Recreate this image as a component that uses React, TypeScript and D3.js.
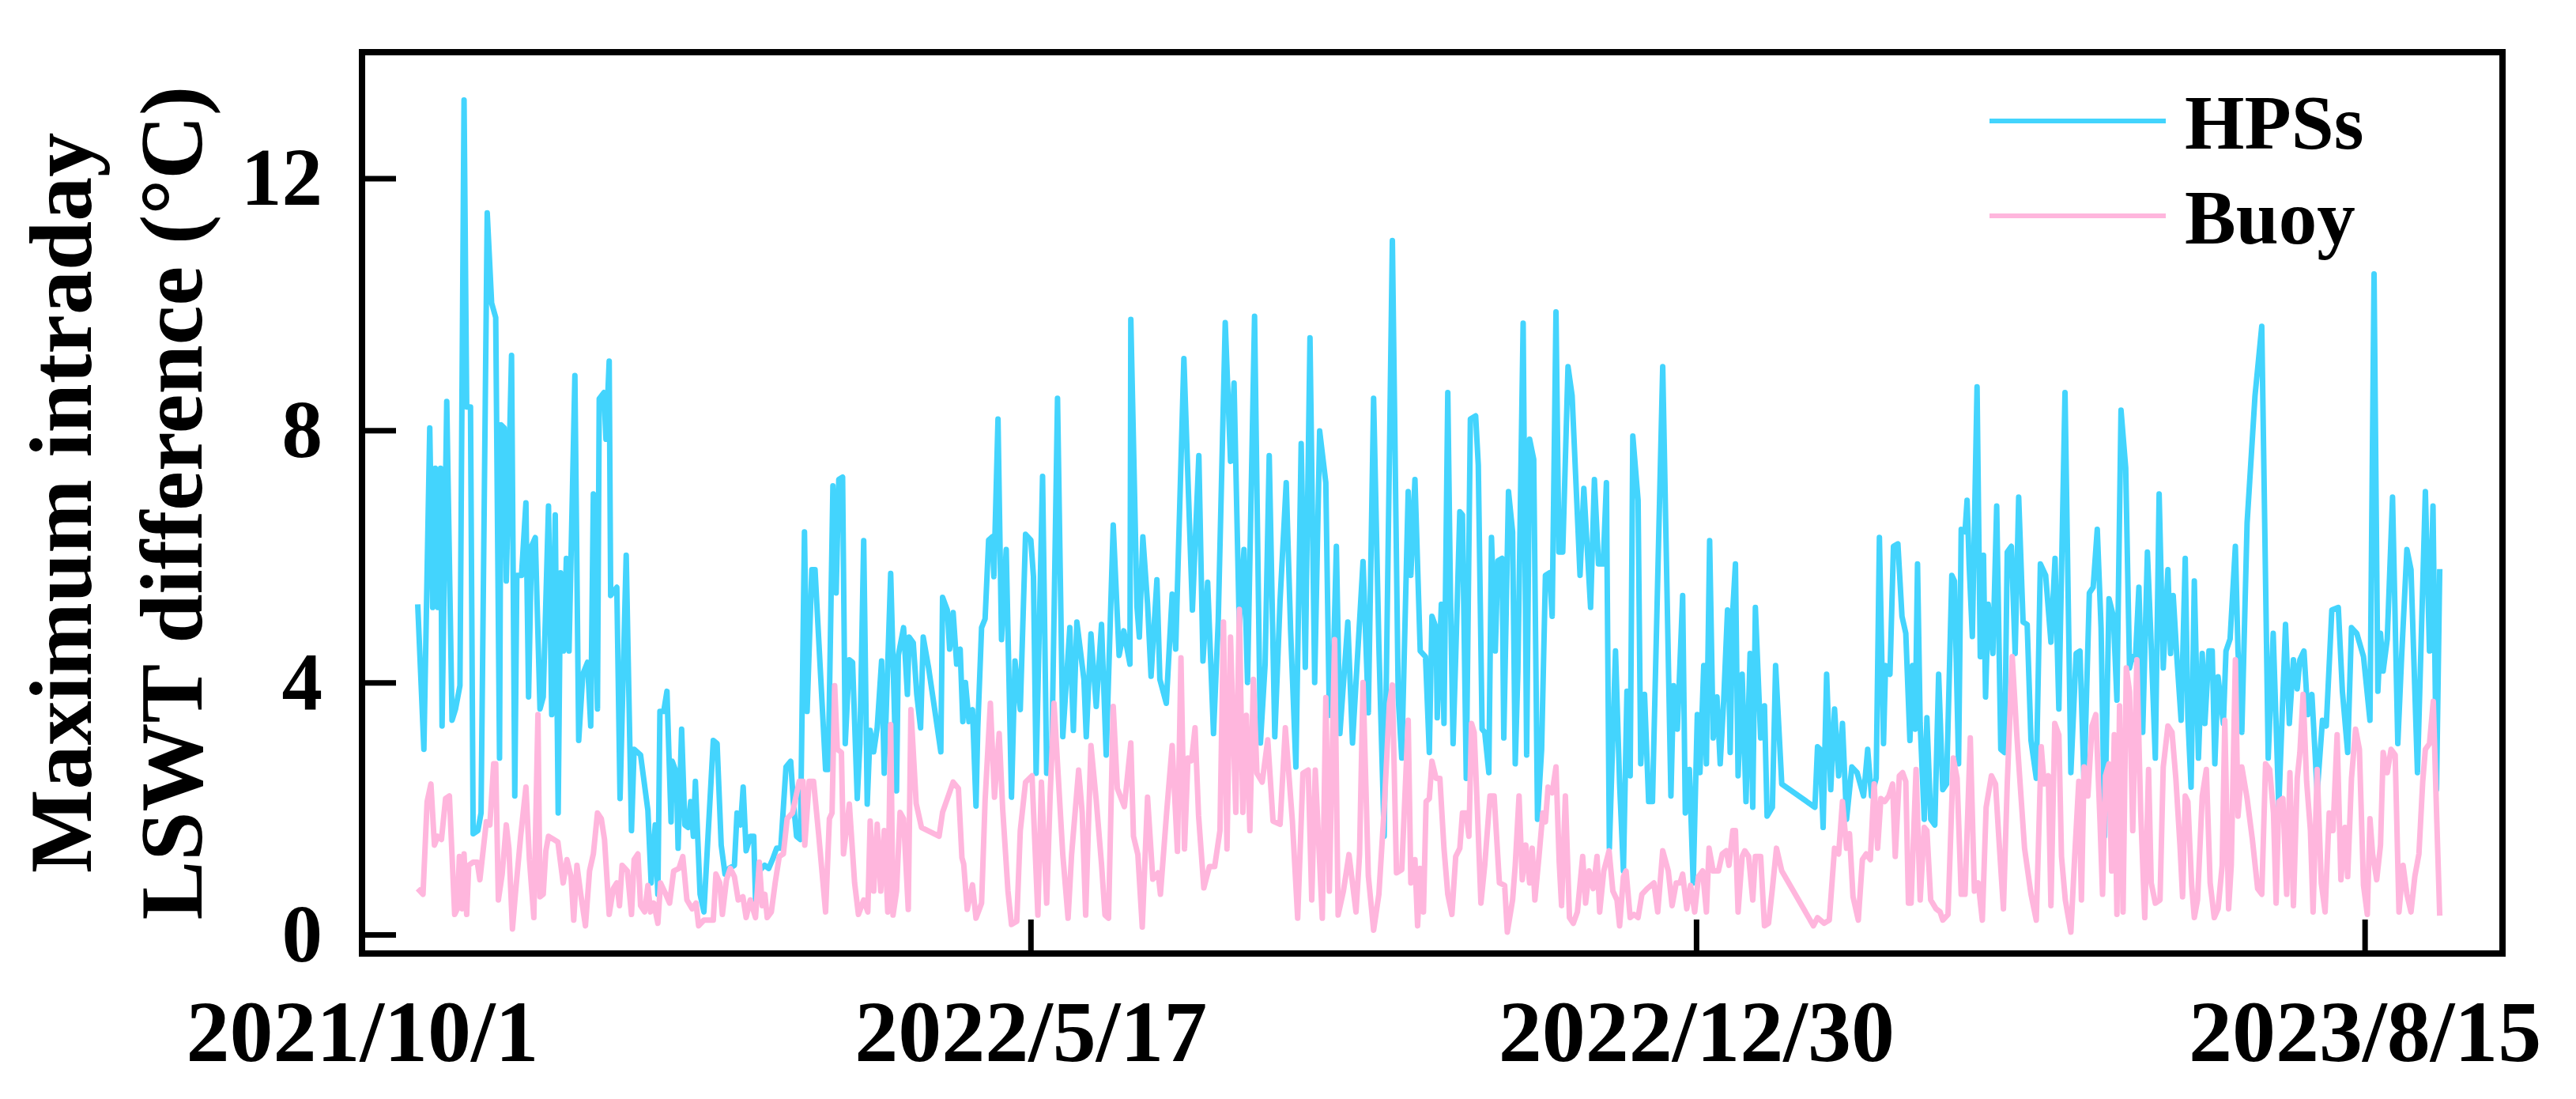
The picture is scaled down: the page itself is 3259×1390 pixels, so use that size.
import React, { useEffect, useRef } from 'react';
import * as d3 from 'd3';

// x values are days since 2021/10/1
const startDate = '2021-10-01';
const endDate = '2023-10-01';
const xTickDates = ['2021-10-01', '2022-05-17', '2022-12-30', '2023-08-15'];
const yTicks = [0, 4, 8, 12];
const seriesNames = ['HPSs', 'Buoy'];
const seriesColors = ['#43D4FD', '#FFB6DD'];

const hpsPoints: [number, number][] = [
  [19.0,5.24],[21.1,2.94],[23.1,8.04],[24.1,5.19],[25.0,7.40],[25.9,5.19],[26.8,7.40],[27.3,3.31],[28.9,8.46],[30.7,3.40],
  [31.9,3.58],[33.4,3.95],[34.8,13.24],[35.7,8.37],[37.0,8.37],[37.9,1.60],[39.5,1.65],[40.6,1.93],[42.7,11.45],[44.2,10.02],
  [45.6,9.79],[46.9,2.80],[47.4,8.09],[48.5,8.04],[49.2,5.61],[51.0,9.19],[52.1,2.2],[52.8,5.7],[54.4,5.7],[55.9,6.85],
  [56.8,3.77],[57.8,6.16],[59.1,6.30],[60.7,3.58],[61.8,3.77],[63.6,6.80],[64.7,3.49],[65.9,6.66],[66.9,1.93],[67.7,5.74],
  [68.7,4.5],[69.7,5.97],[70.6,4.5],[72.6,8.87],[73.9,3.08],[75.3,4.13],[76.9,4.32],[78.0,3.31],[78.9,6.99],[80.3,3.58],
  [80.9,8.5],[82.5,8.6],[83.2,7.86],[84.3,9.1],[84.8,5.38],
  [86.9,5.51],[88.0,2.16],[90.1,6.02],[91.9,1.65],[92.8,2.94],[95.0,2.85],[97.5,1.97],[98.6,0.82],[100.0,1.74],[100.9,0.64],
  [101.6,3.54],[102.9,3.54],[104.0,3.86],[105.4,1.79],[105.8,2.75],[107.2,2.57],[107.8,1.37],[109.0,3.26],[110.1,1.74],[111.2,1.7],
  [112.1,2.11],[113.0,1.56],[113.7,2.43],[115.3,0.64],[116.6,0.36],[118.0,1.56],[119.8,3.08],[121.1,3.03],[122.5,1.42],[123.8,0.96],
  [125.2,1.05],[127.0,1.1],[127.9,1.93],[129.1,1.74],[130.0,2.34],[131.0,1.33],[132.4,1.56],[133.6,1.56],[134.2,0.55],[135.5,1.01],
  [137.3,1.1],[138.7,1.05],[140.0,1.19],[141.4,1.37],[142.8,1.37],[144.6,2.66],[146.2,2.75],[147.1,2.11],[148.2,1.56],[149.5,1.51],
  [150.9,6.39],[151.8,3.54],[153.4,5.79],[154.5,5.79],[158.1,2.62],[159.0,2.62],[160.6,7.12],[161.7,5.42],[162.6,7.22],[163.9,7.26],
  [164.8,3.03],[166.2,4.36],[167.3,4.32],[168.9,2.16],[169.8,3.03],[171.1,6.25],[172.3,2.07],
  [173.3,3.24],[174.5,2.9],[175.7,3.28],[177.2,4.34],[178.1,2.56],[180.3,5.73],[182.3,2.28],[182.9,4.43],[184.7,4.87],[186.0,3.81],
  [186.6,4.72],[188.0,4.63],[189.2,3.81],[190.5,3.28],[191.4,4.72],[193.2,4.24],[195.6,3.48],[197.4,2.9],[198.0,5.35],[199.6,5.15],
  [200.4,4.53],[201.6,5.11],[202.8,4.29],[204.0,4.53],[204.9,3.38],[205.8,4.0],[207.0,3.38],[208.2,3.57],[209.4,2.04],[210.0,3.28],
  [211.3,4.87],[212.5,5.01],[213.7,6.26],[214.9,6.31],[215.5,5.68],[216.9,8.18],[218.1,4.68],[219.7,6.11],[221.5,2.18],[222.7,4.34],
  [224.5,3.57],[226.3,6.35],[228.1,6.26],[229.0,5.68],[229.9,2.56],[232.1,7.27],[233.5,2.56],[235.3,2.99],[237.2,8.51],[239.0,3.14],
  [241.4,4.87],[242.6,3.24],[243.8,4.96],[246.2,4.05],[247.0,3.14],[248.6,4.77],[250.4,3.62],[252.2,4.92],[253.8,2.85],[256.2,6.5],
  [258.2,4.43],[259.8,4.82],[261.9,4.29],[262.2,9.76],[264.3,5.2],[265.1,4.72],[266.3,6.31],[267.9,5.25],[269.1,4.1],[271.1,5.63],
  [272.1,4.05],[274.3,3.67],[276.3,5.4],[277.5,4.53],[280.3,9.14],[283.2,5.15],[285.4,7.6],[286.8,4.34],[288.4,5.59],[290.4,3.19],
  [292.0,4.96],[294.4,9.71],[296.2,7.51],[297.4,8.75],[299.2,4.87],[300.8,6.11],[302.0,4.0],[304.4,9.81],[306.4,3.04],[308.0,4.29],
  [309.4,7.6],[311.3,3.14],[313.1,5.3],[315.2,7.17],[316.7,4.82],[318.5,2.66],[320.3,7.79],[321.7,4.24],[323.3,9.47],[324.9,4.0],
  [326.6,7.99],[328.7,7.17],[329.9,3.48],[331.1,3.96],[332.3,6.16],[333.5,3.19],[336.2,4.96],[337.8,3.04],[341.4,5.92],[343.2,3.52],
  [345.0,8.51],[346.8,4.58],[348.6,1.56],[351.4,11.01],[353.4,3.76],[354.6,2.8],
  [356.8,7.03],[357.7,5.7],[359.1,7.22],[360.9,4.5],[362.7,4.41],[364.0,2.89],[364.9,5.05],[366.3,4.87],[366.7,3.44],[368.1,5.24],
  [369.0,3.35],[370.3,8.6],[371.2,5.42],[372.1,3.03],[373.0,4.41],[374.4,6.71],[375.3,6.66],[376.6,2.48],[378.0,8.18],[379.8,8.23],
  [380.7,7.45],[382.0,3.26],[382.9,3.21],[384.3,2.57],[385.2,6.3],[386.5,4.5],[387.4,5.93],[388.8,5.97],[389.4,3.12],[391.0,7.03],
  [392.4,6.39],[393.3,2.71],[394.2,4.18],[396.0,9.7],[397.2,2.85],[398.2,7.86],[399.6,7.54],[400.9,1.83],[402.3,2.94],[403.6,5.7],
  [405.0,5.74],[405.9,5.05],[407.2,9.88],[408.2,6.07],[409.5,6.07],[411.3,9.01],[412.7,8.55],[415.4,5.7],[416.7,7.08],[419.0,5.19],
  [420.3,7.22],[421.7,5.88],[423.3,5.88],[424.4,7.17],[425.4,1.37],[427.5,4.5],[428.9,2.39],[430.2,1.01],[431.4,3.86],[432.5,2.52],
  [433.4,7.91],[435.2,6.89],[436.1,2.71],[437.4,3.81],[438.8,2.11],[440.1,2.11],
  [443.6,9.01],[446.4,2.2],[447.3,3.95],[448.6,3.26],[450.4,5.38],[451.3,1.93],[452.7,2.62],[454.0,0.82],[455.4,3.49],[456.3,2.57],
  [457.6,4.27],[458.5,2.71],[459.6,6.25],[460.8,3.12],[462.1,3.77],[463.2,2.71],[464.4,3.72],[465.7,5.15],[466.6,2.89],[467.5,5.15],
  [468.4,5.88],[469.3,2.52],[470.7,4.13],[472.0,2.11],[473.4,4.46],[474.3,2.02],[475.2,5.19],[477.0,3.12],[478.3,3.63],[479.2,1.88],
  [481.0,2.02],[482.1,4.27],[484.2,2.39],[495.5,2.02],[496.4,2.98],[497.3,2.94],[498.3,1.7],[499.5,4.13],[500.9,2.3],[502.2,3.58],
  [503.6,2.52],[504.9,3.35],[506.3,1.83],[508.1,2.66],[509.9,2.57],[512.1,2.2],[513.5,2.94],[514.8,2.2],[516.4,2.48],[517.5,6.3],
  [518.9,3.03],[519.6,4.27],[521.1,4.13],[522.3,6.16],[523.8,6.2],[525.2,5.05],[526.5,4.78],[527.9,3.08],[528.8,4.27],[529.7,3.26],
  [530.5,5.88],[531.4,3.35],[532.8,1.83],[533.7,3.44],[535.0,1.83],[536.4,1.74],[537.7,4.13],[539.1,2.3],[540.4,2.39],[542.2,5.7],
  [543.1,5.61],[544.5,2.71],[545.4,6.43],[546.7,6.39],[547.4,6.89],[548.1,5.88],[549.2,4.73],[550.8,8.69],[551.9,4.41],[553.0,6.02],
  [553.7,3.77],[554.6,5.24],[556.2,4.46],[557.5,6.8],[558.9,2.94],[560.2,2.89],[561.1,6.07],[562.5,6.16],[563.8,4.46],[565.0,6.94],
  [566.5,4.96],[567.9,4.92],[569.2,3.08],[571.0,2.48],[572.4,5.88],[574.2,5.7],[576.0,4.64],[577.4,5.97],[578.7,3.58],[580.8,8.6],
  [582.8,2.57],[584.6,4.46],[585.9,4.5],[587.3,2.39],[589.1,5.42],[590.4,5.51],[591.8,6.43],[593.1,4.87],[594.3,1.56],[595.8,5.33],
  [597.3,5.05],[598.5,3.72],[599.9,8.32],[601.5,7.4],[602.8,4.23],[603.7,4.41],[604.8,4.36],[606.0,5.51],[607.3,3.21],[608.9,6.07],
  [610.0,4.82],[611.6,2.8],[612.9,6.99],[614.3,4.23],
  [615.9,5.79],[616.8,4.46],[617.7,5.38],[619.0,4.36],[620.4,3.4],[621.8,5.97],[622.7,3.44],[623.8,2.34],[624.9,5.61],[626.3,2.8],
  [627.6,4.46],[628.5,3.35],[629.9,4.5],[631.0,4.5],[631.9,2.71],[633.0,4.09],[634.8,3.35],[635.7,4.5],[637.1,4.69],[638.9,6.16],
  [639.8,4.5],[641.1,3.21],[642.9,6.53],[645.6,8.55],[647.9,9.65],[650.1,2.8],[651.8,4.78],[653.7,2.02],[656.0,4.92],[657.3,3.35],
  [658.7,4.36],[660.0,3.9],[660.9,4.36],[662.3,4.5],[663.6,3.49],[665.0,3.81],[666.8,2.25],[668.6,3.4],[669.9,3.31],[671.8,5.15],
  [674.0,5.19],[675.4,3.86],[677.2,2.89],[678.5,4.87],[680.3,4.78],[682.6,4.41],[684.8,3.4],[686.2,10.48],[687.5,3.86],[688.4,4.78],
  [689.3,4.18],[690.7,4.69],[692.5,6.94],[694.3,3.03],[695.6,4.41],[697.4,6.11],[698.8,5.79],[701.0,2.57],[703.7,7.03],[705.1,4.5],
  [706.3,6.8],[707.5,2.3],[708.6,5.8],
];

const buoyPoints: [number, number][] = [
  [19.0,0.73],[20.8,0.64],[22.2,2.11],[23.5,2.39],[24.7,1.42],[25.8,1.56],[27.1,1.51],[28.5,2.16],[29.8,2.2],[31.6,0.32],
  [32.5,0.41],[33.2,1.24],[34.1,0.41],[34.8,1.28],[35.7,0.32],[36.4,1.1],[37.9,1.15],[39.3,1.15],[40.2,0.87],[42.4,1.79],
  [43.6,1.74],[44.9,2.71],[45.6,2.71],[46.5,0.55],[47.8,0.96],[49.2,1.74],[50.1,1.37],[51.3,0.09],[52.3,0.64],[54.1,1.56],
  [55.9,2.34],[57.1,1.19],[58.6,0.27],[60.0,3.49],[60.7,0.6],[61.8,0.64],[62.7,1.33],[63.6,1.56],[65.4,1.51],[66.8,1.47],
  [68.6,0.82],[69.9,1.19],[71.3,0.92],[72.2,0.23],[73.3,1.1],[74.6,0.64],[76.2,0.14],[77.6,1.01],[78.9,1.28],[80.3,1.93],
  [81.6,1.84],[82.7,1.51],[84.3,0.32],[85.7,0.73],
  [86.9,0.82],[87.8,0.46],[88.7,1.1],[90.5,1.01],[91.9,0.32],[92.8,1.19],[94.1,1.28],[95.0,0.46],[96.4,0.36],[97.5,0.78],
  [98.4,0.36],[99.5,0.5],[100.9,0.18],[101.8,0.82],[103.6,0.64],[104.9,0.5],[106.3,1.01],[108.1,1.05],[109.4,1.24],[110.8,0.55],
  [112.6,0.41],[113.9,0.5],[114.8,0.14],[116.6,0.23],[118.4,0.23],[119.8,0.23],[120.7,0.96],[122.0,0.82],[122.9,0.32],[124.3,0.87],
  [125.6,1.05],[127.0,0.92],[128.3,0.55],[129.9,0.6],[131.0,0.27],[132.4,0.55],[134.2,0.27],[135.5,1.15],[136.5,0.46],[137.4,0.64],
  [138.2,0.27],[139.6,0.36],[140.9,0.82],[142.3,1.24],[143.7,1.28],[145.0,1.84],[146.8,1.93],[149.1,2.43],[150.4,2.43],[151.0,1.42],
  [152.5,2.43],[154.0,2.43],[155.8,1.56],[158.1,0.36],[159.4,1.84],[160.3,1.93],[161.2,3.95],[162.1,2.94],[163.5,2.89],[164.2,1.28],
  [166.2,2.07],[168.0,0.82],[169.3,0.32],[171.1,0.55],[172.5,0.36],
  [173.3,1.8],[174.5,0.69],[175.7,1.75],[176.9,0.69],[178.1,1.65],[179.3,0.36],[180.3,3.33],[181.1,0.31],[182.3,0.69],[183.5,1.94],
  [184.7,1.84],[186.3,0.4],[187.2,3.57],[189.0,2.08],[190.8,1.7],[196.8,1.56],[198.0,1.94],[199.8,2.18],[201.6,2.42],[203.4,2.32],
  [204.6,1.22],[205.2,1.12],[206.4,0.4],[208.2,0.79],[209.4,0.26],[211.3,0.5],[212.5,2.13],[214.3,3.67],[215.7,2.18],[217.3,3.19],
  [218.5,1.99],[220.3,0.69],[221.5,0.16],[223.3,0.21],[224.5,1.65],[226.3,2.42],[228.5,2.52],[230.5,0.31],[231.7,2.42],[233.5,0.5],
  [234.7,2.23],[236.0,3.67],[239.0,1.27],[240.8,0.26],[242.0,1.27],[244.4,2.61],[245.6,1.94],[246.8,0.31],[248.6,3.0],[250.4,2.13],
  [252.2,1.12],[253.4,0.31],[254.6,0.26],[256.2,3.62],[257.6,2.32],[260.0,2.03],[262.2,3.04],[263.1,1.56],[264.6,1.27],[266.1,0.12],
  [267.9,2.18],[269.7,0.88],[271.5,0.98],[272.3,0.64],[274.5,1.99],[276.3,3.0],[278.1,1.32],[279.3,4.39],[280.5,1.36],[281.7,2.8],
  [282.9,2.76],[284.1,3.28],[285.3,1.89],[287.1,0.74],[289.0,1.08],[290.8,1.08],[292.6,1.65],[293.8,4.96],[295.0,1.36],[296.2,4.72],
  [298.0,1.94],[299.2,5.16],[300.4,1.94],[301.6,3.48],[302.8,1.65],[304.0,4.05],[305.2,2.56],[307.0,2.42],[308.9,3.09],[310.7,1.8],
  [313.1,1.75],[314.9,3.28],[317.3,1.8],[319.1,0.26],[320.9,2.56],[322.7,2.61],[323.9,0.55],[325.1,2.61],[327.5,0.26],[328.7,3.76],
  [329.9,0.69],[331.7,4.68],[332.9,0.31],[334.7,0.69],[336.6,1.27],[339.0,0.36],[340.2,1.27],[341.4,4.0],[343.2,0.93],[345.0,0.07],
  [346.8,0.64],[348.6,1.99],[350.4,3.67],[351.4,3.96],[352.8,0.98],[354.6,1.03],
  [356.8,3.4],[357.7,0.82],[359.1,1.19],[360.0,0.14],[360.9,1.05],[362.0,0.36],[362.9,2.11],[364.0,2.16],[364.9,2.75],[366.3,2.48],
  [367.6,2.48],[369.0,1.37],[370.3,0.64],[371.7,0.32],[373.0,1.24],[374.4,1.37],[375.3,1.93],[376.6,1.93],[377.5,1.56],[378.4,3.35],
  [379.3,3.21],[380.4,1.97],[381.6,0.5],[382.9,1.1],[384.7,2.2],[386.1,2.2],[387.9,0.82],[389.7,0.78],[390.6,0.04],[392.4,0.55],
  [393.3,1.1],[394.6,2.2],[395.7,0.87],[396.9,1.42],[398.2,0.82],[399.1,1.37],[400.0,0.55],[401.4,1.24],[402.7,1.93],[403.6,1.79],
  [404.5,2.34],[405.9,2.25],[407.2,2.66],[408.3,1.15],[409.1,0.46],[410.4,2.2],[411.8,0.27],[413.1,0.18],[414.5,0.36],[416.3,1.24],
  [417.3,0.5],[418.5,1.01],[419.9,0.73],[421.2,1.24],[422.1,0.36],[423.5,1.01],[425.3,1.33],[426.6,0.69],[428.0,0.55],[428.9,0.14],
  [430.2,0.92],[431.1,1.01],[432.5,0.27],[433.8,0.32],[435.2,0.27],[436.5,0.64],[438.3,0.73],[440.6,0.82],[441.9,0.36],
  [443.6,1.33],[445.5,1.01],[446.8,0.46],[448.2,0.82],[449.5,0.82],[450.4,0.96],[451.8,0.41],[453.1,0.78],[454.5,0.36],[455.8,0.92],
  [457.2,1.01],[458.5,0.36],[459.4,1.37],[460.8,1.01],[462.6,1.01],[463.9,1.28],[465.3,1.33],[466.2,1.1],[467.5,1.65],[468.4,1.65],
  [469.3,0.36],[470.7,1.24],[471.6,1.33],[472.9,1.24],[474.3,0.55],[475.2,1.24],[477.0,1.24],[478.3,0.14],[479.7,0.18],[481.0,0.73],
  [482.4,1.37],[484.2,1.01],[495.0,0.14],[496.4,0.27],[498.6,0.18],[500.4,0.23],[502.2,1.37],[503.6,1.28],[504.9,2.11],[506.3,1.37],
  [507.3,1.6],[508.5,0.6],[510.3,0.23],[511.7,1.19],[513.0,1.28],[514.4,1.19],[515.7,2.39],[516.9,1.37],[518.0,2.16],[519.3,2.11],
  [520.7,2.2],[522.0,2.39],[522.9,1.24],[524.3,2.52],[525.4,2.57],[526.5,2.43],[527.4,0.5],[528.3,0.5],
  [530.0,2.62],[531.4,0.55],[532.8,1.7],[533.7,1.65],[535.0,0.55],[536.8,0.41],[538.2,0.36],[539.1,0.23],[540.9,0.32],[542.7,2.8],
  [544.0,2.48],[545.4,0.64],[546.7,0.64],[548.5,3.12],[549.9,0.69],[551.2,0.82],[552.6,0.23],[553.9,2.02],[555.7,2.52],[557.1,2.39],
  [558.2,1.56],[559.8,0.41],[561.1,2.39],[562.8,4.41],[564.3,3.21],[565.5,2.39],[567.0,1.37],[569.2,0.64],[571.0,0.23],[572.7,2.98],
  [573.7,2.39],[575.1,2.52],[576.0,0.46],[577.3,3.35],[578.7,3.17],[579.6,1.24],[580.9,0.55],[582.8,0.04],[584.1,1.24],[585.5,2.43],
  [586.4,0.55],[587.3,2.66],[588.6,2.2],[590.0,3.31],[591.3,3.49],[592.7,1.84],[593.6,0.64],[594.6,2.52],[595.8,2.71],[596.7,1.01],
  [597.6,3.17],[598.5,0.32],[599.4,3.63],[600.6,0.36],[601.7,4.23],[602.8,3.86],[603.9,1.65],[605.3,4.36],[606.6,1.97],[608.0,0.27],
  [609.3,2.62],[610.2,0.82],[611.6,0.5],[613.2,0.55],[614.3,2.66],
  [615.9,3.31],[617.3,3.21],[618.6,2.48],[620.0,1.42],[620.9,0.6],[621.8,2.2],[622.7,2.11],[624.0,0.78],[624.9,0.27],[626.0,0.55],
  [627.6,2.2],[629.0,2.62],[630.3,0.82],[631.7,0.27],[633.0,0.41],[634.4,1.1],[635.3,3.4],[636.6,0.41],[637.5,1.1],[638.9,4.36],
  [639.8,1.88],[641.1,2.66],[642.9,2.16],[644.7,1.51],[646.5,0.73],[647.9,0.64],[649.2,2.71],[650.6,2.62],[651.9,1.93],[652.8,0.5],
  [653.7,2.11],[655.1,2.16],[656.4,0.64],[657.5,2.57],[658.7,0.46],[660.0,2.48],[660.9,2.89],[662.0,3.81],[663.2,2.43],[664.5,1.65],
  [665.4,0.36],[666.8,2.62],[668.2,0.82],[669.5,0.36],[670.9,1.93],[672.2,1.65],[673.6,3.17],[674.9,0.87],[676.3,1.7],[677.2,0.92],
  [678.5,2.48],[679.9,3.26],[681.2,2.94],[682.6,0.78],[683.9,0.32],[684.8,1.84],[685.7,1.28],[687.1,0.87],[688.4,1.42],[689.3,2.89],
  [690.7,2.57],[692.0,2.94],[693.4,2.85],[694.7,0.36],[696.1,1.1],[697.4,0.64],[698.8,0.36],[700.1,0.92],[701.5,1.28],[702.8,2.43],
  [703.7,2.94],[705.1,3.03],[706.4,3.7],[707.6,1.8],[708.6,0.3],
];

const FONT = '"Liberation Serif", "Times New Roman", serif';

const App: React.FC = () => {
  const ref = useRef<SVGSVGElement | null>(null);

  useEffect(() => {
    if (!ref.current) return;
    const svg = d3.select(ref.current);
    svg.selectAll('*').remove();

    const margin = { top: 66, right: 93, bottom: 184, left: 458 };
    const width = 3259;
    const height = 1390;
    const x0 = margin.left;
    const x1 = width - margin.right;
    const y0 = margin.top;
    const y1 = height - margin.bottom;

    const t0 = new Date(startDate).getTime();
    const toDate = (d: number) => new Date(t0 + d * 86400000);

    const x = d3.scaleUtc()
      .domain([new Date(startDate), new Date(endDate)])
      .range([x0, x1]);
    const y = d3.scaleLinear().domain([-0.3, 14]).range([y1, y0]);

    svg.append('rect').attr('width', width).attr('height', height).attr('fill', '#fff');

    // axes, ticks pointing inward
    const gy = svg.append('g')
      .attr('transform', `translate(${x0},0)`)
      .call(d3.axisLeft(y).tickValues(yTicks).tickSize(-43).tickPadding(50).tickFormat(d3.format('d')));
    gy.select('.domain').remove();
    gy.selectAll('line').attr('stroke', '#000').attr('stroke-width', 7);
    gy.selectAll('text')
      .attr('fill', '#000')
      .style('font-family', FONT)
      .style('font-size', '103px')
      .style('font-weight', 'bold');

    const gx = svg.append('g')
      .attr('transform', `translate(0,${y1})`)
      .call(
        d3.axisBottom(x)
          .tickValues(xTickDates.map(s => new Date(s)))
          .tickSize(-43)
          .tickPadding(58)
          .tickFormat(d => d3.utcFormat('%Y/%-m/%-d')(d as Date))
      );
    gx.select('.domain').remove();
    gx.selectAll('line').attr('stroke', '#000').attr('stroke-width', 7);
    gx.selectAll('text')
      .attr('fill', '#000')
      .style('font-family', FONT)
      .style('font-size', '110px')
      .style('font-weight', 'bold');

    const line = d3.line<[number, number]>()
      .x(d => x(toDate(d[0])))
      .y(d => y(d[1]));

    [hpsPoints, buoyPoints].forEach((pts, i) => {
      svg.append('path')
        .datum(pts)
        .attr('fill', 'none')
        .attr('stroke', seriesColors[i])
        .attr('stroke-width', 7)
        .attr('stroke-linejoin', 'round')
        .attr('d', line);
    });

    // frame
    svg.append('rect')
      .attr('x', x0)
      .attr('y', y0)
      .attr('width', x1 - x0)
      .attr('height', y1 - y0)
      .attr('fill', 'none')
      .attr('stroke', '#000')
      .attr('stroke-width', 8);

    // legend
    const legend = svg.append('g');
    seriesNames.forEach((name, i) => {
      const ly = 153 + i * 120;
      legend.append('line')
        .attr('x1', 2517).attr('x2', 2740)
        .attr('y1', ly).attr('y2', ly)
        .attr('stroke', seriesColors[i])
        .attr('stroke-width', 6);
      legend.append('text')
        .attr('x', 2764)
        .attr('y', ly + 35)
        .attr('fill', '#000')
        .style('font-family', FONT)
        .style('font-size', '97px')
        .style('font-weight', 'bold')
        .text(name);
    });

    // y title
    const title = svg.append('g').attr('transform', `translate(0,${(y0 + y1) / 2}) rotate(-90)`);
    ['Maximum intraday', 'LSWT difference (°C)'].forEach((t, i) => {
      title.append('text')
        .attr('x', 0)
        .attr('y', 115 + i * 140)
        .attr('text-anchor', 'middle')
        .attr('fill', '#000')
        .style('font-family', FONT)
        .style('font-size', '112px')
        .style('font-weight', 'bold')
        .text(t);
    });
  }, []);

  return (
    <div style={{ position: 'absolute', left: 0, top: 0 }}>
      <svg ref={ref} width={3259} height={1390} style={{ display: 'block' }} />
    </div>
  );
};

export default App;
